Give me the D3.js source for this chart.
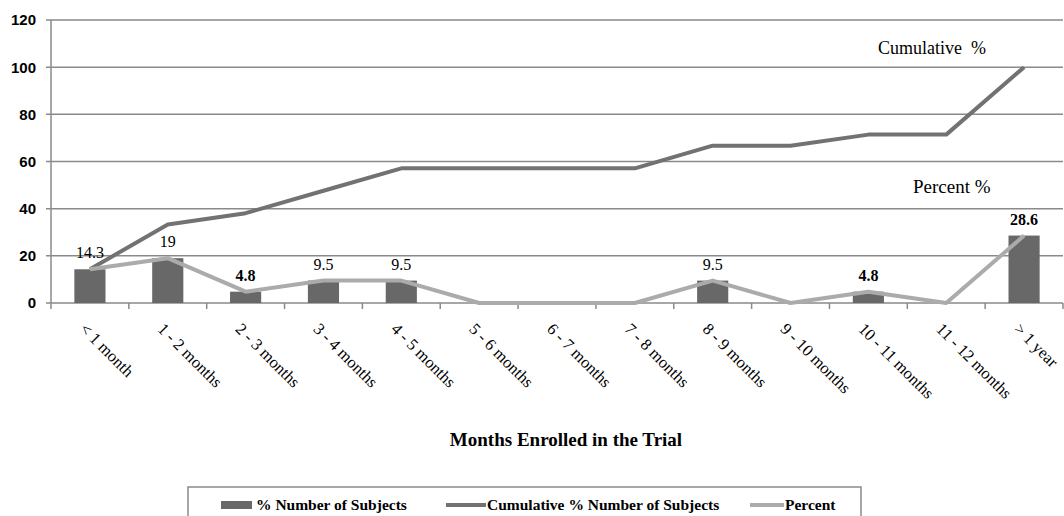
<!DOCTYPE html>
<html>
<head>
<meta charset="utf-8">
<script src="https://cdn.jsdelivr.net/npm/d3@7"></script>
<style>
  html, body { margin: 0; padding: 0; background: #fff; }
  svg { display: block; }
</style>
</head>
<body>
<svg id="chart" width="1064" height="516"></svg>
<script>
// Enrollment duration categories
const categories = ["< 1 month", "1 - 2 months", "2 - 3 months", "3 - 4 months", "4 - 5 months",
  "5 - 6 months", "6 - 7 months", "7 - 8 months", "8 - 9 months", "9 - 10 months",
  "10 - 11 months", "11 - 12 months", "> 1 year"];
// % number of subjects per category
const pctSubjects = [14.3, 19, 4.8, 9.5, 9.5, 0, 0, 0, 9.5, 0, 4.8, 0, 28.6];
// cumulative % number of subjects
const cumulative = [14.3, 33.3, 38.1, 47.6, 57.1, 57.1, 57.1, 57.1, 66.7, 66.7, 71.4, 71.4, 100];
// percent line
const percent = [14.3, 19, 4.8, 9.5, 9.5, 0, 0, 0, 9.5, 0, 4.8, 0, 28.6];
// value labels shown above bars (null = none), and which are bold
const valueLabels = ["14.3", "19", "4.8", "9.5", "9.5", null, null, null, "9.5", null, "4.8", null, "28.6"];
const labelBold = [false, false, true, false, false, false, false, false, false, false, true, false, true];
const yTicks = [0, 20, 40, 60, 80, 100, 120];

const svg = d3.select("#chart");
const plotLeft = 51, plotRight = 1063, plotTop = 20, plotBottom = 303;
const serif = "Liberation Serif, Times New Roman, serif";

const x = d3.scaleBand().domain(categories).range([plotLeft, plotRight]).paddingInner(0).paddingOuter(0);
const y = d3.scaleLinear().domain([0, 120]).range([plotBottom, plotTop]);
const cx = d => x(d) + x.bandwidth() / 2;

// horizontal gridlines with small left ticks
svg.append("g").selectAll("line").data(yTicks).join("line")
  .attr("x1", plotLeft - 5).attr("x2", plotRight)
  .attr("y1", d => y(d)).attr("y2", d => y(d))
  .attr("stroke", "#8a8a8a").attr("stroke-width", 1.5);

// y axis line
svg.append("line").attr("x1", plotLeft).attr("x2", plotLeft).attr("y1", plotTop).attr("y2", plotBottom)
  .attr("stroke", "#8a8a8a").attr("stroke-width", 1.5);

// y tick labels
svg.append("g").selectAll("text").data(yTicks).join("text")
  .attr("x", 36).attr("y", d => y(d)).attr("dy", "0.36em")
  .attr("text-anchor", "end")
  .attr("font-family", "Liberation Sans, Arial, sans-serif")
  .attr("font-weight", "bold").attr("font-size", 15).attr("fill", "#000")
  .text(d => d);

// x tick marks at band boundaries
const bounds = categories.map(c => x(c)).concat([plotRight]);
svg.append("g").selectAll("line").data(bounds).join("line")
  .attr("x1", d => d).attr("x2", d => d)
  .attr("y1", plotBottom).attr("y2", plotBottom + 6)
  .attr("stroke", "#8a8a8a").attr("stroke-width", 1.5);

// bars
const barW = x.bandwidth() * 0.4;
svg.append("g").selectAll("rect").data(categories).join("rect")
  .attr("x", (d) => cx(d) - barW / 2)
  .attr("width", barW)
  .attr("y", (d, i) => y(pctSubjects[i]))
  .attr("height", (d, i) => y(0) - y(pctSubjects[i]))
  .attr("fill", "#686868");

// lines
const lineGen = vals => d3.line().x((d, i) => cx(categories[i])).y(d => y(d))(vals);
svg.append("path").attr("d", lineGen(cumulative))
  .attr("fill", "none").attr("stroke", "#727272").attr("stroke-width", 4)
  .attr("stroke-linejoin", "round");
svg.append("path").attr("d", lineGen(percent))
  .attr("fill", "none").attr("stroke", "#ababab").attr("stroke-width", 4)
  .attr("stroke-linejoin", "round");

// value labels
svg.append("g").selectAll("text").data(categories).join("text")
  .filter((d, i) => valueLabels[i] !== null)
  .attr("x", d => cx(d))
  .attr("y", d => y(pctSubjects[categories.indexOf(d)]) - 11)
  .attr("text-anchor", "middle")
  .attr("font-family", serif)
  .attr("font-size", 16)
  .attr("font-weight", d => labelBold[categories.indexOf(d)] ? "bold" : "normal")
  .attr("fill", "#000")
  .text(d => valueLabels[categories.indexOf(d)]);

// x category labels rotated 45°
svg.append("g").selectAll("text").data(categories).join("text")
  .attr("transform", d => `translate(${cx(d) - 11},${330}) rotate(45)`)
  .attr("font-family", serif)
  .attr("font-size", 16.5).attr("fill", "#000")
  .text(d => d);

// x axis title
svg.append("text").attr("x", 566).attr("y", 446).attr("text-anchor", "middle")
  .attr("font-family", serif)
  .attr("font-weight", "bold").attr("font-size", 19).attr("fill", "#000")
  .text("Months Enrolled in the Trial");

// series annotations
svg.append("text").attr("x", 878).attr("y", 54)
  .style("white-space", "pre")
  .attr("font-family", serif)
  .attr("font-size", 18).attr("fill", "#000")
  .text("Cumulative  %");
svg.append("text").attr("x", 913).attr("y", 193)
  .attr("font-family", serif)
  .attr("font-size", 19).attr("fill", "#000")
  .text("Percent %");

// legend
const lg = svg.append("g");
lg.append("rect").attr("x", 188).attr("y", 487).attr("width", 673).attr("height", 40)
  .attr("fill", "#fff").attr("stroke", "#8a8a8a").attr("stroke-width", 1.5);
const legendItems = [
  { label: "% Number of Subjects", type: "bar", color: "#686868", sx: 221, tx: 256 },
  { label: "Cumulative % Number of Subjects", type: "line", color: "#727272", sx: 446, tx: 487 },
  { label: "Percent", type: "line", color: "#ababab", sx: 750, tx: 785 }
];
legendItems.forEach(it => {
  if (it.type === "bar") {
    lg.append("rect").attr("x", it.sx).attr("y", 501).attr("width", 31).attr("height", 8).attr("fill", it.color);
  } else {
    lg.append("line").attr("x1", it.sx).attr("x2", it.tx - 1).attr("y1", 505).attr("y2", 505)
      .attr("stroke", it.color).attr("stroke-width", 4);
  }
  lg.append("text").attr("x", it.tx).attr("y", 510)
    .attr("font-family", serif)
    .attr("font-weight", "bold").attr("font-size", 15.5).attr("fill", "#000")
    .text(it.label);
});
</script>
</body>
</html>
